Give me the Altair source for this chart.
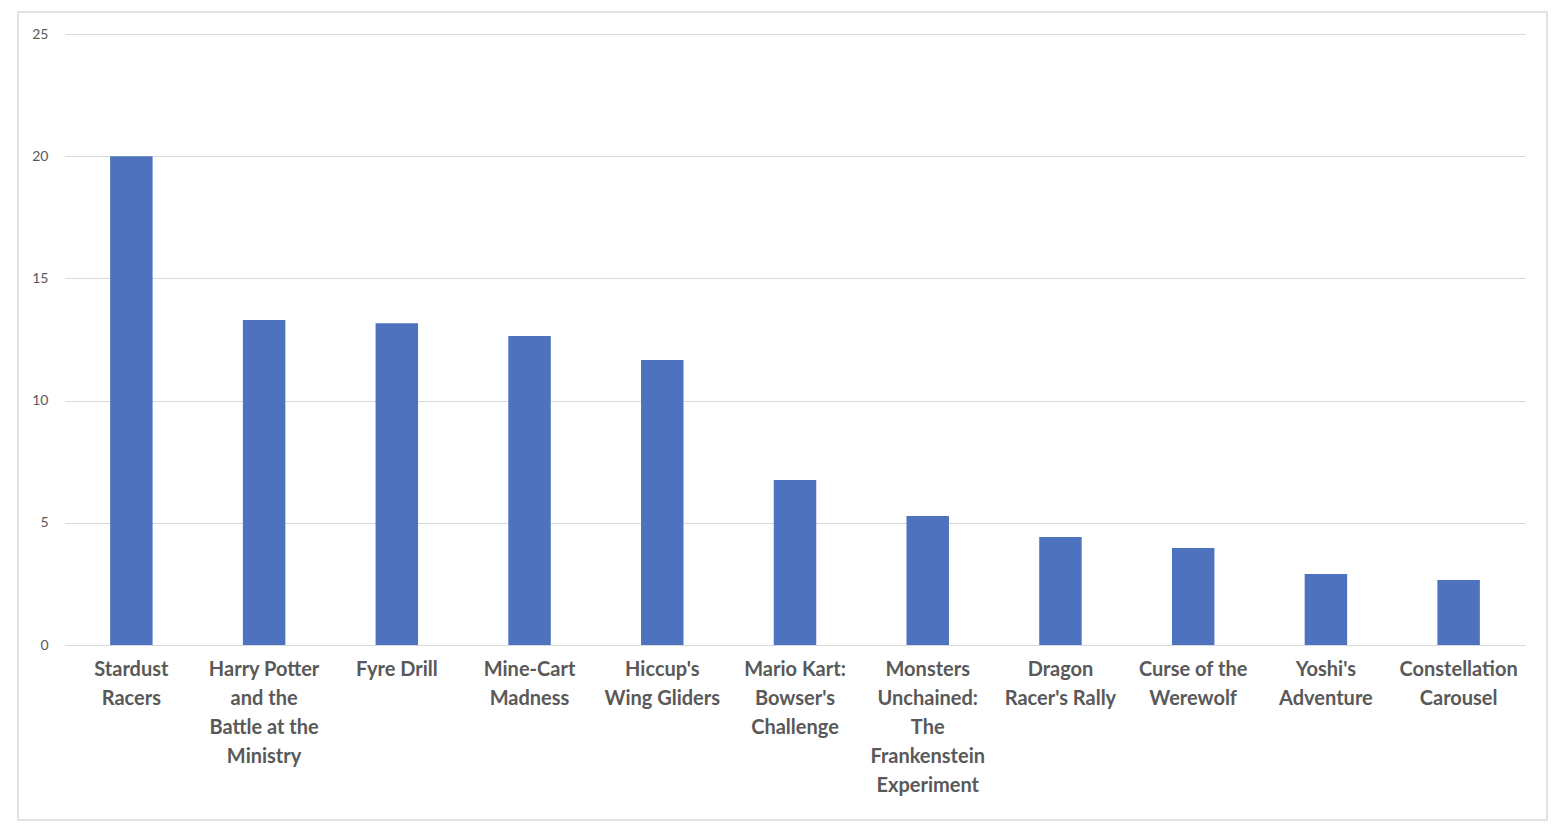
import altair as alt
import pandas as pd

rides = ["Stardust|Racers", "Harry Potter|and the|Battle at the|Ministry", "Fyre Drill",
         "Mine-Cart|Madness", "Hiccup's|Wing Gliders", "Mario Kart:|Bowser's|Challenge",
         "Monsters|Unchained:|The|Frankenstein|Experiment", "Dragon|Racer's Rally",
         "Curse of the|Werewolf", "Yoshi's|Adventure", "Constellation|Carousel"]
values = [20.0, 13.3, 13.17, 12.64, 11.66, 6.75, 5.28, 4.42, 3.97, 2.9, 2.66]

df = pd.DataFrame({"ride": rides, "value": values})

bars = alt.Chart(df).mark_bar(color="#4f72be").encode(
    x=alt.X("ride:N", sort=None, title=None,
            scale=alt.Scale(paddingInner=0.68, paddingOuter=0.34),
            axis=alt.Axis(labelAngle=0, labelExpr="split(datum.label, '|')",
                          labelFontSize=20, labelColor="#595959", labelFont="Lato",
                          labelFontWeight="bold", labelLineHeight=29, labelPadding=14,
                          ticks=False, domainColor="#d9d9d9", labelLimit=200)),
    y=alt.Y("value:Q", title=None, scale=alt.Scale(domain=[0, 25]),
            axis=alt.Axis(values=[0, 5, 10, 15, 20, 25], labelFontSize=14,
                          labelColor="#595959", labelFont="Lato", labelPadding=17,
                          ticks=False, domain=False, gridColor="#d9d9d9")),
)

border = alt.Chart(pd.DataFrame({"a": [0]})).mark_rect(
    fill=None, stroke="#d9d9d9", strokeWidth=1.5, clip=False
).encode(x=alt.value(-47), x2=alt.value(1482), y=alt.value(-22), y2=alt.value(786))

chart = alt.layer(border, bars).properties(
    width=1460, height=611,
    autosize=alt.AutoSizeParams(type="none"),
    padding={"left": 57, "top": 26, "right": 35, "bottom": 185}
).configure_view(stroke=None)

chart.save("out.html", embed_options={"renderer": "svg", "actions": False})
